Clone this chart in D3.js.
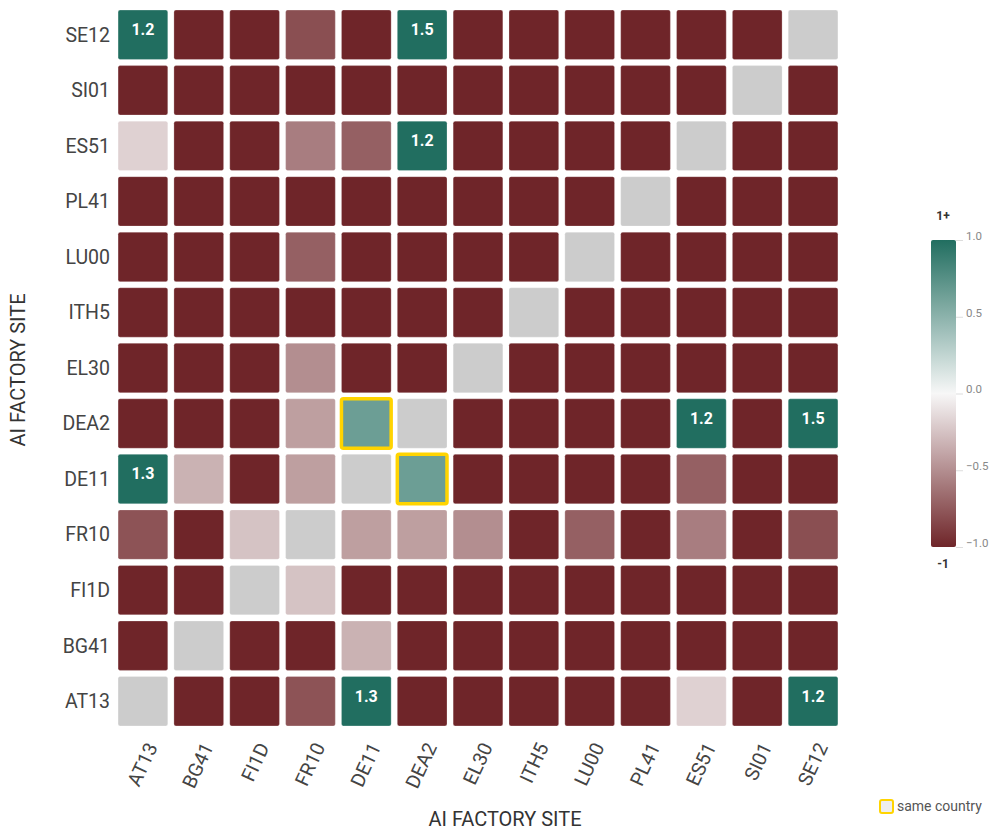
<!DOCTYPE html>
<html>
<head>
<meta charset="utf-8">
<script src="https://cdn.jsdelivr.net/npm/d3@7"></script>
<style>
  html, body { margin: 0; padding: 0; background: #fff; }
  body { font-family: Roboto, "Noto Sans", sans-serif; }
</style>
</head>
<body>
<div id="chart"></div>
<script>
// Sites, columns left -> right, rows top -> bottom
const colSites = ['AT13', 'BG41', 'FI1D', 'FR10', 'DE11', 'DEA2', 'EL30', 'ITH5', 'LU00', 'PL41', 'ES51', 'SI01', 'SE12'];
const rowSites = ['SE12', 'SI01', 'ES51', 'PL41', 'LU00', 'ITH5', 'EL30', 'DEA2', 'DE11', 'FR10', 'FI1D', 'BG41', 'AT13'];

// one row per rowSites entry, values in colSites order (null = same site)
const values = [
  [1.2, -1, -1, -0.8, -1, 1.5, -1, -1, -1, -1, -1, -1, null],
  [-1, -1, -1, -1, -1, -1, -1, -1, -1, -1, -1, null, -1],
  [-0.18, -1, -1, -0.58, -0.72, 1.2, -1, -1, -1, -1, null, -1, -1],
  [-1, -1, -1, -1, -1, -1, -1, -1, -1, null, -1, -1, -1],
  [-1, -1, -1, -0.72, -1, -1, -1, -1, null, -1, -1, -1, -1],
  [-1, -1, -1, -1, -1, -1, -1, null, -1, -1, -1, -1, -1],
  [-1, -1, -1, -0.5, -1, -1, null, -1, -1, -1, -1, -1, -1],
  [-1, -1, -1, -0.42, 0.65, null, -1, -1, -1, -1, 1.2, -1, 1.5],
  [1.3, -0.33, -1, -0.42, null, 0.65, -1, -1, -1, -1, -0.72, -1, -1],
  [-0.78, -1, -0.25, null, -0.42, -0.42, -0.5, -1, -0.72, -1, -0.58, -1, -0.8],
  [-1, -1, null, -0.25, -1, -1, -1, -1, -1, -1, -1, -1, -1],
  [-1, null, -1, -1, -0.33, -1, -1, -1, -1, -1, -1, -1, -1],
  [null, -1, -1, -0.78, 1.3, -1, -1, -1, -1, -1, -0.18, -1, 1.2]
];

// pairs in the same country [row, col]
const sameCountry = [['DEA2', 'DE11'], ['DE11', 'DEA2']];

const legendTicks = [-1, -0.5, 0, 0.5, 1];

const width = 994;
const height = 831;

const svg = d3.select('#chart')
  .append('svg')
  .attr('width', width)
  .attr('height', height);

const x = d3.scaleBand()
  .domain(colSites)
  .range([115, 841])
  .paddingInner(0.11)
  .paddingOuter(0.055);

const y = d3.scaleBand()
  .domain(rowSites)
  .range([7, 729])
  .paddingInner(0.11)
  .paddingOuter(0.055);

const color = d3.scaleLinear()
  .domain([-1, 0, 1])
  .range(['#6f2529', '#f7f7f7', '#216e60'])
  .clamp(true);

const cells = [];
values.forEach((row, i) => {
  row.forEach((v, j) => {
    cells.push({ row: rowSites[i], col: colSites[j], value: v });
  });
});

const isSame = d => sameCountry.some(p => p[0] === d.row && p[1] === d.col);

const grid = svg.append('g');

grid.selectAll('rect.cell')
  .data(cells)
  .join('rect')
  .attr('class', 'cell')
  .attr('x', d => x(d.col))
  .attr('y', d => y(d.row))
  .attr('width', x.bandwidth())
  .attr('height', y.bandwidth())
  .attr('rx', 2)
  .attr('fill', d => d.value === null ? '#cccccc' : color(d.value))
  .attr('stroke', d => isSame(d) ? '#ffd400' : 'rgba(255,255,255,0.25)')
  .attr('stroke-width', d => isSame(d) ? 3.5 : 1);

grid.selectAll('text.val')
  .data(cells.filter(d => d.value !== null && d.value > 1))
  .join('text')
  .attr('class', 'val')
  .attr('x', d => x(d.col) + x.bandwidth() / 2)
  .attr('y', d => y(d.row) + 25)
  .attr('text-anchor', 'middle')
  .attr('fill', '#fff')
  .style('font-size', '16px')
  .style('font-weight', 'bold')
  .text(d => d3.format('.1f')(d.value));

// y axis labels
svg.append('g')
  .selectAll('text')
  .data(rowSites)
  .join('text')
  .attr('x', 110)
  .attr('y', d => y(d) + y.bandwidth() / 2)
  .attr('dy', '0.35em')
  .attr('text-anchor', 'end')
  .attr('fill', '#444')
  .style('font-size', '19.5px')
  .text(d => d);

// x axis labels
svg.append('g')
  .selectAll('text')
  .data(colSites)
  .join('text')
  .attr('transform', d => `translate(${x(d) + x.bandwidth() / 2 + 9},${744}) rotate(-65)`)
  .attr('dy', '0.35em')
  .attr('text-anchor', 'end')
  .attr('fill', '#444')
  .style('font-size', '19.5px')
  .text(d => d);

// axis titles
svg.append('text')
  .attr('x', 505)
  .attr('y', 826)
  .attr('text-anchor', 'middle')
  .attr('fill', '#333')
  .style('font-size', '20px')
  .text('AI FACTORY SITE');

svg.append('text')
  .attr('transform', `translate(25,370) rotate(-90)`)
  .attr('text-anchor', 'middle')
  .attr('fill', '#333')
  .style('font-size', '20px')
  .text('AI FACTORY SITE');

// colour bar
const barY = d3.scaleLinear().domain([-1, 1]).range([547, 240]);

const grad = svg.append('defs')
  .append('linearGradient')
  .attr('id', 'cbar')
  .attr('x1', 0).attr('y1', 1)
  .attr('x2', 0).attr('y2', 0);

d3.range(0, 1.0001, 0.1).forEach(t => {
  grad.append('stop')
    .attr('offset', t)
    .attr('stop-color', color(-1 + 2 * t));
});

svg.append('rect')
  .attr('x', 931)
  .attr('y', barY(1))
  .attr('width', 25)
  .attr('height', barY(-1) - barY(1))
  .attr('rx', 2)
  .attr('fill', 'url(#cbar)');

const barAxis = svg.append('g')
  .attr('transform', 'translate(956,0)')
  .call(d3.axisRight(barY).tickValues(legendTicks).tickSize(7).tickFormat(d3.format('.1f')));

barAxis.select('.domain').remove();
barAxis.selectAll('line').attr('stroke', '#ddd');
barAxis.selectAll('text')
  .attr('fill', '#888')
  .attr('dy', '-0.05em')
  .style('font-size', '11.5px')
  .style('font-family', 'Roboto, sans-serif');

svg.append('text')
  .attr('x', 943)
  .attr('y', 220)
  .attr('text-anchor', 'middle')
  .attr('fill', '#333')
  .style('font-size', '12px')
  .style('font-weight', 'bold')
  .text('1+');

svg.append('text')
  .attr('x', 943)
  .attr('y', 568)
  .attr('text-anchor', 'middle')
  .attr('fill', '#333')
  .style('font-size', '12px')
  .style('font-weight', 'bold')
  .text('-1');

// same country legend
svg.append('rect')
  .attr('x', 880)
  .attr('y', 800)
  .attr('width', 13)
  .attr('height', 13)
  .attr('rx', 2)
  .attr('fill', '#eee')
  .attr('stroke', '#ffd400')
  .attr('stroke-width', 2);

svg.append('text')
  .attr('x', 897)
  .attr('y', 811)
  .attr('fill', '#555')
  .style('font-size', '14px')
  .text('same country');
</script>
</body>
</html>
